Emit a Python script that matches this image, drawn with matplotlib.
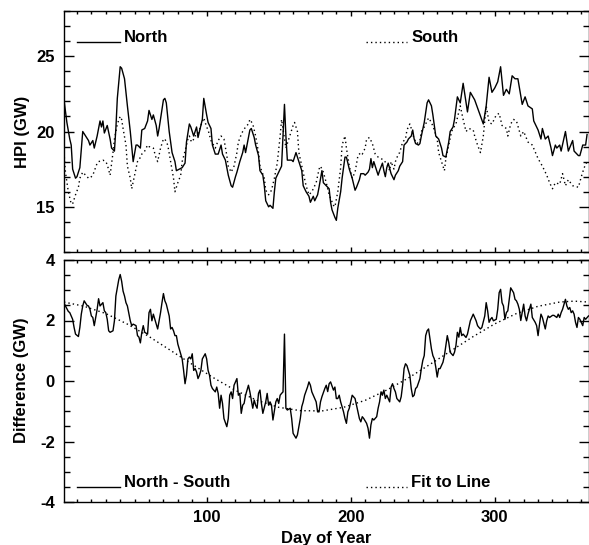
import matplotlib
matplotlib.use("Agg")
import matplotlib.pyplot as plt
from matplotlib.ticker import MultipleLocator

# ---------------- data ----------------
north_day = [1, 3, 5, 6, 7, 9, 10, 12, 14, 16, 18, 19, 21, 22, 24, 26, 27, 28, 29, 31, 33, 34, 36, 37, 38, 40, 41, 43, 45, 47,
             49, 51, 52, 54, 55, 57, 59, 60, 62, 63, 65, 66, 67, 70, 71, 72, 74, 76, 78, 79, 81, 83, 85, 86, 88, 89, 90,
             91, 93, 94, 95, 97, 98, 100, 101, 103, 104, 106, 108, 109, 110, 111, 113, 115, 117, 118, 120, 121, 123, 125,
             126, 127, 128, 130, 131, 133, 134, 136, 137, 139, 140, 141, 143, 144, 146, 147, 148, 150, 152, 153, 154, 155,
             156, 159, 160, 162, 164, 166, 167, 169, 171, 172, 174, 175, 177, 178, 180, 181, 183,
             185, 186, 187, 189, 190, 191, 193, 194, 196, 197, 199, 201, 203, 204, 206, 207, 209, 210, 212, 213, 214, 215,
             216, 218, 219, 220, 222, 223, 224, 225, 226, 228, 230, 231, 233, 234, 236, 237, 239, 240, 242, 243, 244, 245,
             247, 248, 249, 251, 253, 254, 256, 257, 259, 261, 263, 264, 266, 268, 269, 271,
             272, 274, 276, 278, 281, 283, 286, 289, 292, 294, 296, 298, 300, 302, 304, 306, 308, 310, 312, 314, 316, 319,
             321, 323, 326, 327, 330, 332, 333, 335, 337, 339, 340, 342, 343, 345, 346, 349, 351, 354, 355, 358, 359, 361,
             363, 364]
north_hpi = [22.1, 20.6, 19.5, 19.1, 17.5, 16.9, 17.0, 17.6, 20.0, 19.7, 19.4, 19.1, 19.4, 18.9, 19.7, 20.7, 20.3, 20.7, 19.9,
             20.4, 19.5, 18.9, 18.7, 20.2, 22.2, 24.3, 24.2, 23.5, 21.7, 20.0,
             18.0, 19.1, 19.1, 18.9, 20.1, 20.2, 20.7, 21.4, 20.8, 21.1, 20.4, 19.7, 20.2, 22.1, 22.2, 21.9, 20.0, 18.6,
             18.0, 17.4, 17.5, 17.6, 17.9, 19.3, 20.5, 20.3, 20.0,
             19.7, 20.3, 19.6, 20.0, 20.8, 22.2, 21.1, 20.6, 20.2, 19.1, 18.5, 18.5, 18.8, 19.1, 18.5, 18.1, 17.1, 16.4,
             16.3, 17.0, 17.3, 18.0, 18.6, 19.1, 18.6, 19.1, 20.1, 20.2, 19.6, 19.1, 18.4, 17.4, 17.1, 16.4, 15.4, 15.0,
             15.1, 14.9, 16.0, 16.9, 17.3, 17.7, 19.7, 21.8, 19.7, 18.1, 18.1, 18.0, 18.6, 18.0, 17.4, 16.4, 16.0, 15.7,
             15.3, 15.7, 15.4, 15.8, 16.3, 17.4, 16.6, 16.4,
             16.2, 15.3, 14.8, 14.3, 14.1, 14.9, 16.0, 16.9, 18.3, 18.3, 17.5, 16.9, 16.1, 16.3, 16.8, 17.2, 17.2, 17.1,
             17.3, 17.5, 18.2, 17.6, 18.0, 17.4, 17.1, 17.4, 17.9, 17.4, 17.0, 17.6, 17.9, 17.2, 16.8, 17.1, 17.4, 17.7,
             18.0, 19.1, 19.3, 19.5, 19.7, 20.1, 19.5, 19.2, 19.1, 19.2, 19.7, 20.6, 21.9, 22.1, 21.7, 21.1, 19.7, 19.5,
             18.9, 18.4, 18.3, 19.3, 20.0, 20.3,
             20.8, 22.3, 21.9, 23.2, 21.3, 22.6, 22.1, 21.3, 20.5, 21.7, 23.6, 22.6, 22.9, 23.3, 24.3, 22.4, 22.8, 22.5,
             23.7, 23.5, 23.5, 21.8, 22.3, 21.7, 21.5, 20.7, 20.1, 19.5, 20.2, 19.5, 19.7, 18.9, 18.4, 19.1, 18.9, 19.1,
             18.7, 20.0, 18.7, 19.4, 18.7, 18.4, 18.4, 19.1, 19.1, 19.8]

south_day = [1, 2, 4, 6, 7, 9, 11, 12, 14, 15, 18, 19, 21, 24, 25, 28, 30, 31, 33, 35, 36, 38, 40, 41, 42, 44, 45, 47, 48,
             50, 52, 53, 55, 57, 59, 60, 63, 65, 66, 68, 70, 71, 73, 75, 77, 78, 80, 82, 83, 85, 87, 88, 89,
             90, 92, 94, 96, 98, 100, 101, 103, 106, 108, 110, 112, 114, 115, 117, 119, 121, 122, 124, 125, 127, 129, 130,
             132, 134, 136, 137, 140, 141, 143, 145, 147, 149, 151, 152, 154, 155, 157, 160, 161, 163, 164, 167, 169, 171,
             173, 176, 178, 179, 181, 183,
             185, 188, 189, 191, 193, 194, 196, 197, 199, 201, 203, 205, 207, 208, 210, 211, 213, 215, 217, 219, 221, 223,
             226, 227, 228, 230, 231, 233, 234, 236, 238, 239, 241, 242, 244, 246, 248, 249, 251, 253, 254, 256, 258, 260,
             261, 263, 265, 266, 268, 270, 271,
             273, 276, 278, 280, 282, 285, 286, 288, 290, 292, 294, 296, 298, 301, 303, 305, 308, 309, 311, 313, 315, 318,
             320, 323, 326, 330, 333, 336, 338, 340, 342, 345, 347, 349, 351, 354, 358, 360, 362, 364]
south_hpi = [18.6, 17.3, 16.0, 15.2, 15.2, 15.8, 16.3, 16.9, 17.3, 17.2, 16.9, 16.9, 17.1, 17.9, 18.0, 18.1, 18.0, 17.8, 17.1,
             18.6, 19.5, 20.5, 21.0, 20.8, 20.2, 19.1, 17.7, 16.9, 16.2,
             17.1, 18.0, 18.1, 18.5, 18.7, 19.1, 19.0, 18.9, 18.2, 18.0, 18.9, 19.5, 19.5, 19.1, 18.0, 16.9, 16.0, 16.6,
             17.1, 18.0, 18.7, 19.5, 19.7, 19.4,
             19.3, 19.7, 19.8, 20.4, 20.9, 20.3, 20.1, 19.4, 18.9, 19.4, 19.7, 19.5, 18.4, 17.7, 17.3, 17.7, 18.6, 19.3,
             19.8, 20.0, 20.3, 20.5, 20.8, 20.5, 19.7, 18.6, 17.7, 16.9, 16.1, 15.8, 16.1, 16.9, 17.9, 19.7, 20.8, 19.5,
             18.9, 19.5, 20.4, 20.6, 20.0, 18.6, 17.3, 16.4, 15.8, 16.0, 16.6, 17.5, 17.7, 17.3, 16.6,
             15.8, 15.1, 15.0, 16.0, 17.6, 19.1, 19.7, 18.9, 17.7, 16.9, 17.3, 18.4, 18.6, 18.5, 18.9, 19.5, 19.6, 19.2,
             18.5, 18.3, 18.2, 18.1, 17.7, 17.4, 18.0, 17.5, 18.0, 18.5, 18.6, 19.3, 19.5, 20.1, 20.5, 20.2, 19.5, 19.2,
             19.4, 20.0, 20.3, 20.7, 20.9, 20.6, 20.1, 19.5, 18.6, 18.0, 17.4, 18.2, 19.1, 20.0, 20.2,
             20.5, 21.7, 20.8, 20.0, 20.2, 20.1, 19.7, 19.1, 18.6, 19.7, 21.7, 20.6, 20.5, 21.1, 21.2, 20.4, 20.2, 19.7,
             20.5, 20.8, 20.7, 19.7, 20.0, 19.3, 19.1, 18.2, 17.7, 17.1, 16.6, 16.2, 16.6, 16.5, 17.2, 16.4, 16.8, 16.4,
             16.3, 17.0, 17.6, 18.0]

diff_day = [1, 2, 4, 5, 7, 8, 9, 11, 12, 13, 14, 15, 17, 18, 19, 20, 21, 22, 23, 24, 25, 26, 28, 29, 30, 31, 32, 33, 35, 36,
            37, 39, 40, 41, 42, 43, 44, 45, 47, 48, 49, 51, 52, 53, 54, 55, 56, 57, 59, 60, 61, 62, 63, 65, 66, 67, 68, 69,
            70, 71, 72, 74, 75, 76, 77, 78, 79, 80, 81, 82, 83, 84, 85, 86, 87, 88, 89, 90, 91,
            92, 93, 94, 95, 96, 97, 99, 100, 101, 102, 103, 104, 106, 107, 108, 109, 110, 111, 112, 114, 115, 116, 117,
            118, 119, 121, 122, 123, 124, 125, 126, 127, 129, 130, 132, 133, 134, 135, 136, 137, 138, 139, 141, 142, 143,
            144, 145, 146, 148, 149, 150, 151, 152, 153, 154, 155, 156, 158, 159, 160, 162, 163, 165, 166, 167, 168, 170,
            171, 172, 173, 175, 176, 177, 178, 179, 180, 182, 183,
            184, 185, 186, 188, 189, 190, 191, 192, 193, 195, 196, 197, 198, 199, 200, 201, 203, 204, 205, 206, 207, 208,
            209, 211, 212, 213, 214, 215, 216, 218, 219, 220, 221, 222, 223, 224, 225, 227, 228, 229, 230, 231, 232, 234,
            235, 236, 237, 238, 239, 241, 242, 243, 244, 245, 246, 248, 249, 250, 251, 252, 253, 254, 256, 257, 258, 259,
            260, 261, 262, 264, 265, 266, 267, 268, 269, 271,
            272, 273, 274, 275, 276, 277, 278, 280, 281, 282, 283, 285, 286, 287, 288, 289, 290, 291, 293, 294, 295, 296,
            297, 298, 299, 301, 302, 303, 304, 305, 306, 307, 308, 309, 310, 311, 313, 314, 315, 316, 317, 318, 319, 320,
            321, 322, 323, 324, 325, 326, 328, 329, 330, 331, 332, 333, 335, 336, 337, 338, 340, 341, 343, 344, 345, 346,
            347, 349, 350, 351, 352, 353, 354, 355, 356, 357, 358, 359, 361, 362, 363, 365]
diff_gw = [2.58, 2.48, 2.30, 2.26, 2.04, 1.77, 1.55, 1.47, 1.77, 2.21, 2.48, 2.65, 2.50, 2.48, 2.37, 2.15, 2.10, 1.83, 2.10,
           2.37, 2.72, 2.48, 2.59, 2.32, 2.26, 2.04, 1.66, 1.61, 1.66, 1.99,
           2.81, 3.35, 3.52, 3.30, 2.97, 2.81, 2.59, 2.48, 1.99, 1.83, 1.88, 1.83, 1.50, 1.45, 1.26, 1.61, 1.83, 1.61,
           1.55, 2.26, 2.37, 1.99, 2.21, 1.88, 1.72, 1.99, 2.26, 2.59,
           2.89, 2.65, 2.54, 2.15, 1.72, 1.77, 1.66, 1.50, 1.50, 1.22, 1.06, 0.90, 0.73, 0.35, -0.09, 0.19, 0.73, 0.79,
           0.73, 0.90, 0.35,
           0.41, 0.30, 0.08, 0.19, 0.35, 0.73, 0.90, 0.73, 0.35, 0.19, -0.14, -0.25, -0.36, -0.20, -0.41, -0.90, -0.47,
           -0.74, -1.24, -1.51, -1.24, -0.47, -0.36,
           -0.58, -0.14, 0.08, -0.47, -0.41, -1.07, -0.80, -0.74, -0.47, -0.14, -0.36, -0.90, -0.63, -0.80, -0.90, -0.41,
           -0.30, -0.74, -1.07, -0.69, -0.41, -0.80,
           -0.69, -0.80, -1.29, -0.69, -0.58, -0.74, -0.47, -0.41, -0.36, 1.55, -0.90, -0.96, -0.90, -1.24, -1.73, -1.89,
           -1.78, -1.24, -0.85, -0.69, -0.47, -0.20,
           -0.03, -0.14, -0.36, -0.58, -0.69, -1.02, -1.02, -0.69, -0.52, -0.25, -0.14,
           -0.35, -0.09, -0.03, -0.30, -0.20, -0.58, -0.58, -0.47, -0.69, -1.02, -1.24, -1.40, -1.02, -0.90, -0.69, -0.47,
           -0.58, -0.80, -1.02, -1.24, -1.35, -1.18,
           -1.24, -1.40, -1.56, -1.89, -1.45, -1.24, -1.29, -1.18, -0.90, -0.69, -0.36, -0.47, -0.30, -0.58, -0.47, -0.69,
           -0.20, -0.09, -0.25, -0.36, -0.58, -0.69,
           -0.52, -0.14, 0.41, 0.57, 0.51, 0.19, -0.25, -0.52, -0.47, -0.25, -0.20, 0.08, 0.41, 0.68, 0.84, 1.50, 1.66,
           1.72, 1.06, 0.84, 0.73, 0.46,
           0.13, 0.41, 0.41, 0.62, 0.84, 1.17, 1.50, 1.28, 0.95, 0.84,
           0.95, 1.17, 1.61, 1.45, 1.77, 1.50, 1.55, 1.44, 1.55, 1.77, 1.99, 2.21, 2.10, 1.99, 1.83, 1.77, 1.72, 1.77,
           2.15, 2.59, 2.32, 1.94,
           2.04, 2.10, 1.99, 2.04, 2.37, 2.92, 3.03, 2.59, 2.48, 2.04, 2.26, 2.32, 2.70, 3.08, 2.92, 2.70, 2.65, 2.54,
           2.37, 2.00, 2.26, 2.54,
           2.15, 1.99, 2.21, 2.37, 2.54, 2.10, 1.94, 1.83, 1.50, 1.88, 2.21, 2.10, 1.72, 1.99, 2.15, 2.10, 2.17, 2.17,
           2.10, 2.21, 2.10, 2.26,
           2.37, 2.70, 2.48, 2.37, 2.43, 2.26, 2.32, 2.21, 1.94, 1.77, 2.10, 2.04, 1.83, 2.10, 2.04, 2.15]

fit_day = [1, 15, 30, 45, 60, 75, 90, 105, 120, 135, 150, 165, 180, 195, 210, 225, 240, 255, 270, 285, 300, 315, 330, 345,
           355, 365]
fit_gw = [2.61, 2.47, 2.23, 1.88, 1.47, 1.01, 0.55, 0.10, -0.31, -0.64, -0.87, -0.98, -0.99, -0.87, -0.64, -0.30, 0.10,
          0.55, 1.01, 1.47, 1.89, 2.23, 2.47, 2.61, 2.64, 2.61]

x_ticks = [100, 200, 300]
top_yticks = [15, 20, 25]
bot_yticks = [-4, -2, 0, 2, 4]

# ---------------- figure ----------------
plt.rcParams['font.family'] = ['Liberation Sans', 'DejaVu Sans']
plt.rcParams['font.weight'] = 'bold'
plt.rcParams['font.size'] = 12

W, H = 589, 545
fig = plt.figure(figsize=(W / 100, H / 100), dpi=100)

left_px, right_px = 64, 588.5
ax1 = fig.add_axes([left_px / W, 1 - 252 / H, (right_px - left_px) / W, 241 / H])
ax2 = fig.add_axes([left_px / W, 1 - 502 / H, (right_px - left_px) / W, 242 / H])

dot = (0, (1.0, 2.2))
lw = 1.0

ax1.plot(north_day, north_hpi, color='black', lw=lw)
ax1.plot(south_day, south_hpi, color='black', lw=lw, linestyle=dot)
ax2.plot(diff_day, diff_gw, color='black', lw=lw)
ax2.plot(fit_day, fit_gw, color='black', lw=lw, linestyle=dot)

for ax in (ax1, ax2):
    ax.set_xlim(1, 365)
    ax.set_xticks(x_ticks)
    ax.xaxis.set_minor_locator(MultipleLocator(10))
    for s in ax.spines.values():
        s.set_linewidth(1.0)
    ax.tick_params(which='both', direction='in', top=True, right=True, width=1.0)
    ax.tick_params(axis='x', which='major', length=3.8, pad=6)
    ax.tick_params(axis='x', which='minor', length=2.0)
    ax.tick_params(axis='y', which='major', length=7.5, pad=6.5)
    ax.tick_params(axis='y', which='minor', length=4.0)
    for lab in ax.get_xticklabels() + ax.get_yticklabels():
        lab.set_fontweight('bold')

ax1.set_ylim(12, 28)
ax1.set_yticks(top_yticks)
ax1.yaxis.set_minor_locator(MultipleLocator(1))
ax1.tick_params(axis='x', labelbottom=False)

ax2.set_ylim(-4, 4)
ax2.set_yticks(bot_yticks)
ax2.set_yticklabels([str(v) for v in bot_yticks], fontweight='bold')
ax2.yaxis.set_minor_locator(MultipleLocator(0.5))

# axis labels
fig.text(22 / W, 1 - 132 / H, 'HPI (GW)', rotation=90, ha='center', va='center', fontsize=12, fontweight='bold')
fig.text(22 / W, 1 - 380 / H, 'Difference (GW)', rotation=90, ha='center', va='center', fontsize=12, fontweight='bold')
fig.text(326 / W, 1 - 543 / H, 'Day of Year', ha='center', va='baseline', fontsize=12, fontweight='bold')

# in-plot legends
def legend_entry(ax, x0, x1, y, style, label):
    ax.plot([x0, x1], [y, y], transform=ax.transAxes, color='black', lw=lw, linestyle=style, clip_on=False)
    ax.text(x1 + 0.008, y, label, transform=ax.transAxes, ha='left', va='baseline', fontsize=12, fontweight='bold')

axw = right_px - left_px
fx = lambda px: (px - left_px) / axw
legend_entry(ax1, fx(77), fx(120), (252 - 41.5) / 241, '-', 'North')
legend_entry(ax1, fx(366), fx(407), (252 - 41.5) / 241, dot, 'South')
legend_entry(ax2, fx(77), fx(120), (502 - 487) / 242, '-', 'North - South')
legend_entry(ax2, fx(366), fx(407), (502 - 487) / 242, dot, 'Fit to Line')

fig.savefig('out.png', dpi=100)
